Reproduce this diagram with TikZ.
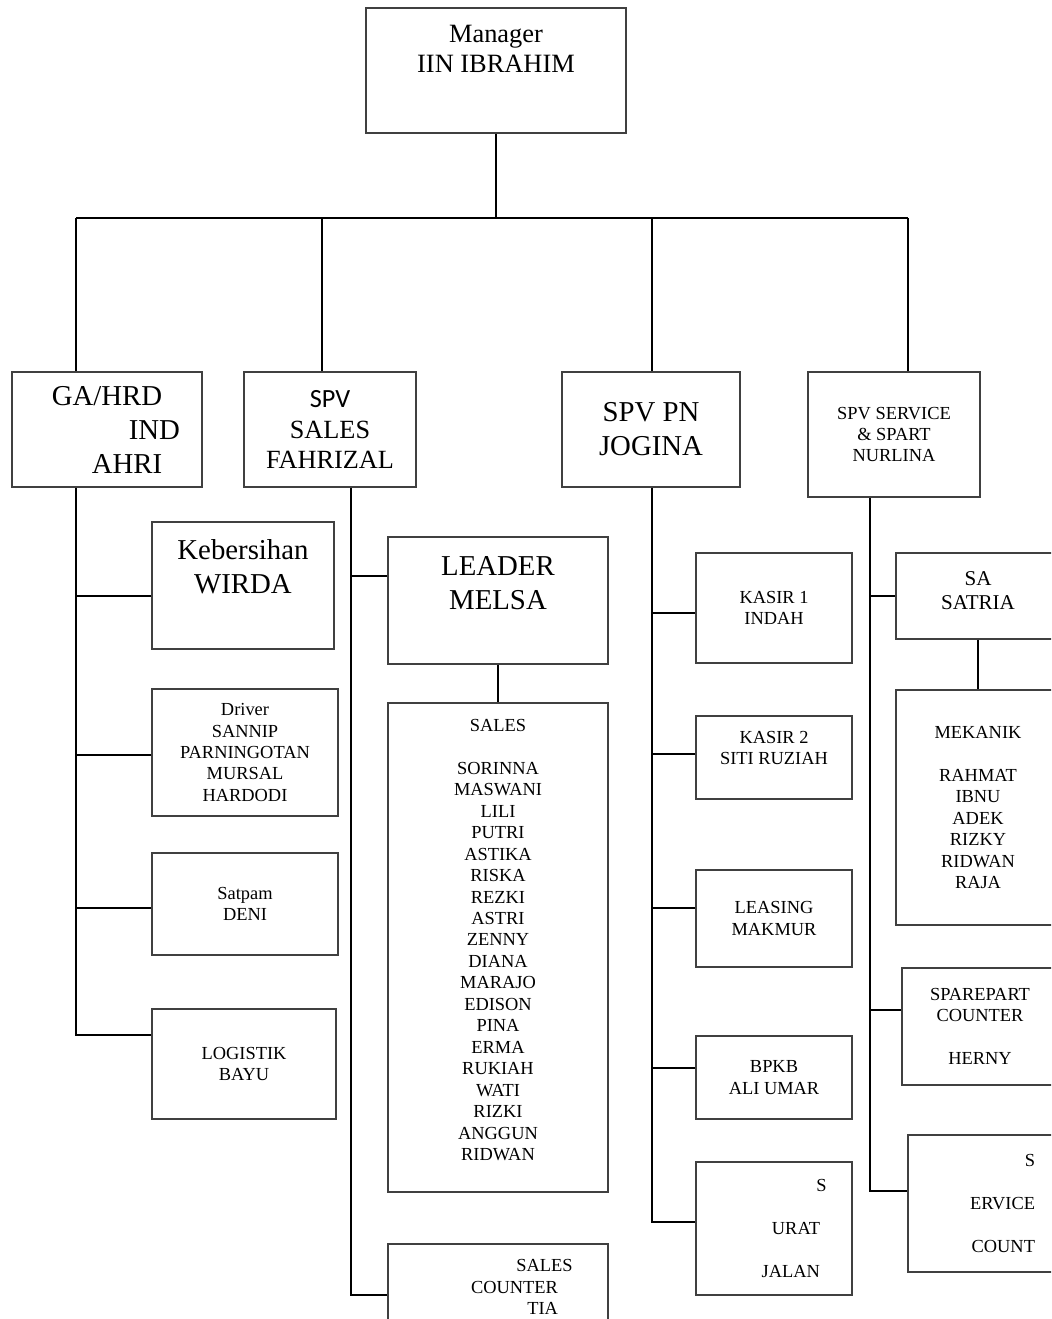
\documentclass[tikz,border=0pt]{standalone}
\usepackage{fontspec}
\setmainfont{Liberation Serif}
\newfontfamily\calfont{Carlito}
\usetikzlibrary{calc}
\definecolor{edgegrey}{RGB}{64,64,64}
\newcommand{\orgsmall}{\fontsize{13.8}{16.1}\selectfont}
\newcommand{\orgbig}{\fontsize{21.6}{25.5}\selectfont}
\newcommand{\orgmid}{\fontsize{19.7}{23.2}\selectfont}
\newcommand{\orgmgr}{\fontsize{19.8}{22.5}\selectfont}
\newcommand{\orgsa}{\fontsize{15.8}{18}\selectfont}
\tikzset{
  box/.style={draw=edgegrey,line width=0.9pt,fill=white,inner sep=0pt,
              align=center,font=\orgsmall},
  txs/.style={align=center,inner sep=0pt,font=\orgsmall},
  txb/.style={align=center,inner sep=0pt,font=\orgbig},
  txm/.style={align=center,inner sep=0pt,font=\orgmgr},
  txa/.style={align=center,inner sep=0pt,font=\orgsa},
  conn/.style={draw=black,line width=1.5pt},
}
\begin{document}
\begin{tikzpicture}[x=0.75pt,y=-0.75pt]
  \useasboundingbox (0,0) rectangle (1051,1319);
  \clip (0,0) rectangle (1051,1319);

  % top
  \node[box,minimum width=195pt,minimum height=93.75pt] (mgr) at (496,70.5) {};
  \node[txm] (mgrT) at ($(mgr)+(0,-21.5)$) {Manager\\IIN IBRAHIM};

  % supervisors
  \node[box,font=\orgbig,align=left,minimum width=142.5pt,minimum height=86.25pt] (gah) at (107,429.5)
        {GA/HRD\\\hspace*{57.75pt}\rlap{IND}\\\hspace*{30pt}AHRI};
  \node[box,font=\orgmid,minimum width=129pt,minimum height=86.25pt] (spvs) at (330,429.5)
        {{\calfont SPV}\\SALES\\FAHRIZAL};
  \node[box,font=\orgbig,minimum width=133.5pt,minimum height=86.25pt] (spvp) at (651,429.5)
        {SPV PN\\JOGINA};
  \node[box,minimum width=129pt,minimum height=93.75pt] (spvv) at (894,434.5)
        {SPV SERVICE\\\& SPART\\NURLINA};

  % GA/HRD staff
  \node[box,minimum width=136.5pt,minimum height=95.25pt] (kebr) at (243,585.5) {};
  \node[txb] (kebrT) at ($(kebr)+(0,-19)$) {Kebersihan\\WIRDA};
  \node[box,minimum width=139.5pt,minimum height=95.25pt] (drv) at (245,752.5)
        {Driver\\SANNIP\\PARNINGOTAN\\MURSAL\\HARDODI};
  \node[box,minimum width=139.5pt,minimum height=76.5pt] (satp) at (245,904) {Satpam\\DENI};
  \node[box,minimum width=138pt,minimum height=82.5pt] (logi) at (244,1064) {LOGISTIK\\BAYU};

  % sales staff
  \node[box,minimum width=165pt,minimum height=95.25pt] (lead) at (498,600.5) {};
  \node[txb] (leadT) at ($(lead)+(0,-17.5)$) {LEADER\\MELSA};
  \node[box,minimum width=165pt,minimum height=366.75pt] (sales) at (498,947.5) {};
  \node[txs] (salesT) at ($(sales)+(0,-7.5)$)
        {SALES\\[16.1pt]SORINNA\\MASWANI\\LILI\\PUTRI\\ASTIKA\\RISKA\\REZKI\\ASTRI\\ZENNY\\DIANA\\
         MARAJO\\EDISON\\PINA\\ERMA\\RUKIAH\\WATI\\RIZKI\\ANGGUN\\RIDWAN};
  \node[box,align=right,text width=90pt,inner xsep=37.5pt,minimum height=64.5pt] (ctr) at (498,1287)
        {SALES\kern-11pt\\COUNTER\\TIA};

  % PN staff
  \node[box,minimum width=117pt,minimum height=82.5pt] (ks1) at (774,608) {KASIR 1\\INDAH};
  \node[box,minimum width=117pt,minimum height=62.25pt] (ks2) at (774,757.5) {};
  \node[txs] (ks2T) at ($(ks2)+(0,-9.5)$) {KASIR 2\\SITI RUZIAH};
  \node[box,minimum width=117pt,minimum height=72.75pt] (lsg) at (774,918.5) {LEASING\\MAKMUR};
  \node[box,minimum width=117pt,minimum height=62.25pt] (bpkb) at (774,1077.5) {BPKB\\ALI UMAR};
  \node[box,align=right,text width=69pt,inner xsep=24pt,minimum height=99.75pt] (srt) at (774,1228.5)
        {S\kern-5pt\\[16.1pt]URAT\\[16.1pt]JALAN};

  % service staff
  \node[box,minimum width=123pt,minimum height=64.5pt] (sa) at (978,596) {};
  \node[txa] (saT) at ($(sa)+(0,-5)$) {SA\\SATRIA};
  \node[box,minimum width=123pt,minimum height=176.25pt] (mek) at (978,807.5)
        {MEKANIK\\[16.1pt]RAHMAT\\IBNU\\ADEK\\RIZKY\\RIDWAN\\RAJA};
  \node[box,minimum width=117pt,minimum height=87.75pt] (spc) at (980,1026.5)
        {SPAREPART\\COUNTER\\[16.1pt]HERNY};
  \node[box,align=right,text width=69pt,inner xsep=26.25pt,minimum height=102.75pt] (svc) at (989,1203.5)
        {S\\[16.1pt]ERVICE\\[16.1pt]COUNT};

  % bus
  \coordinate (b1) at (76,218);
  \coordinate (b2) at (322,218);
  \coordinate (b3) at (652,218);
  \coordinate (b4) at (908,218);
  \draw[conn] (mgr.south) -- (mgr.south |- b1);
  \draw[conn] (b1) -- (b4);
  \foreach \c/\n in {b1/gah,b2/spvs,b3/spvp,b4/spvv}
    \draw[conn] (\c) -- (\c |- \n.north);

  % GA/HRD line
  \draw[conn] (b1 |- gah.south) |- ($(logi.west)+(0,-29)$);
  \foreach \n/\d in {kebr/10.5,drv/2.5,satp/4}
    \draw[conn] ($(\n.west)+(0,\d)$) coordinate (p) -- (p -| b1);

  % sales line
  \coordinate (s0) at ($(spvs.south)+(21,0)$);
  \draw[conn] (s0) |- ($(ctr.west)+(0,8)$);
  \draw[conn] ($(lead.west)+(0,-24.5)$) coordinate (p) -- (p -| s0);
  \draw[conn] (lead) -- (sales);

  % PN line
  \draw[conn] (b3 |- spvp.south) |- ($(srt.west)+(0,-6.5)$);
  \foreach \n/\d in {ks1/5,ks2/-3.5,lsg/-10.5,bpkb/-9.5}
    \draw[conn] ($(\n.west)+(0,\d)$) coordinate (p) -- (p -| b3);

  % service line
  \coordinate (v0) at ($(spvv.south)+(-24,0)$);
  \draw[conn] (v0) |- ($(svc.west)+(0,-12.5)$);
  \foreach \n/\d in {sa/0,spc/-16.5}
    \draw[conn] ($(\n.west)+(0,\d)$) coordinate (p) -- (p -| v0);
  \draw[conn] (sa) -- (mek);
\end{tikzpicture}
\end{document}
